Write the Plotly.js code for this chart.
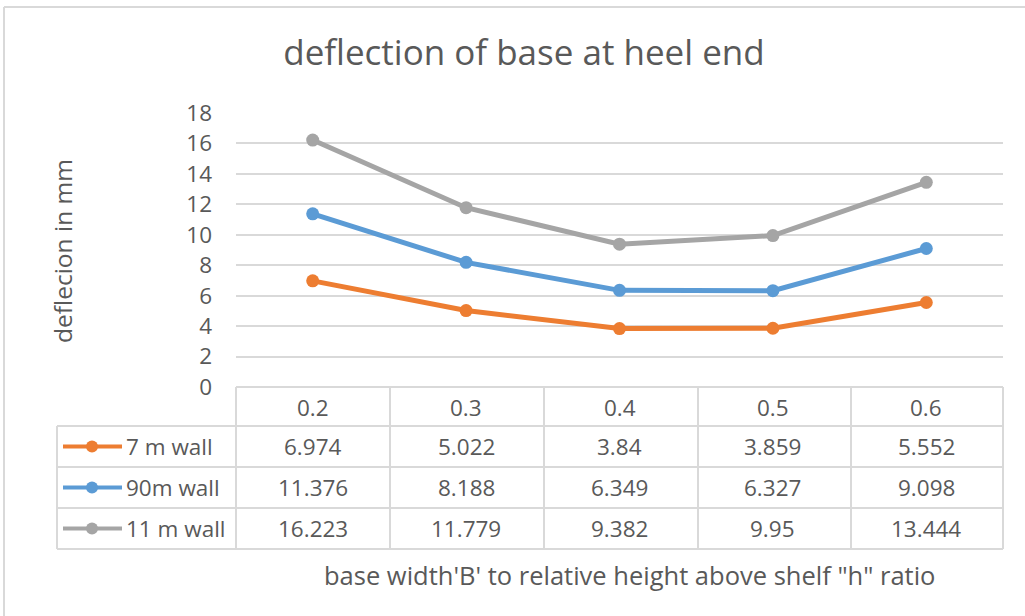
<!DOCTYPE html>
<html><head><meta charset="utf-8">
<script src="https://cdn.plot.ly/plotly-3.0.1.min.js"></script>
<style>html,body{margin:0;padding:0;background:#fff}#chart{width:1025px;height:616px}</style>
</head><body><div id="chart"></div>
<script>
var categories = ['0.2', '0.3', '0.4', '0.5', '0.6'];
var seriesNames = ['7 m wall', '90m wall', '11 m wall'];
var wall7 = [6.974, 5.022, 3.84, 3.859, 5.552];
var wall90 = [11.376, 8.188, 6.349, 6.327, 9.098];
var wall11 = [16.223, 11.779, 9.382, 9.95, 13.444];
var tableText7 = ['6.974', '5.022', '3.84', '3.859', '5.552'];
var tableText90 = ['11.376', '8.188', '6.349', '6.327', '9.098'];
var tableText11 = ['16.223', '11.779', '9.382', '9.95', '13.444'];
var yTicks = [0, 2, 4, 6, 8, 10, 12, 14, 16, 18];

var colors = ['#ED7D31', '#5B9BD5', '#A5A5A5'];
var values = [wall7, wall90, wall11];
var texts = [tableText7, tableText90, tableText11];
var FONT = 'Open Sans, Noto Sans, sans-serif';
var TXT = '#595959';
var GRID = '#d9d9d9';
var CELL = 22.5;

var L = 236, R = 1003, T = 113, B = 387, W = 1025, H = 616;
var pw = R - L, ph = B - T;
function px(x) { return (x - L) / pw; }
function py(y) { return (B - y) / ph; }

var xi = categories.map(function (c, i) { return i; });
var traces = values.map(function (v, k) {
  return {
    type: 'scatter', mode: 'lines+markers', x: xi, y: v, name: seriesNames[k],
    line: { color: colors[k], width: 5 },
    marker: { color: colors[k], size: 13 },
    cliponaxis: false, showlegend: false
  };
});

var rowTops = [387, 426, 467, 508, 549];
var colLines = [236, 390, 544, 698, 851, 1003];
var shapes = [], annotations = [];
var lineStyle = { color: GRID, width: 2 };
rowTops.forEach(function (y, i) {
  shapes.push({ type: 'line', xref: 'paper', yref: 'paper', x0: px(i === 0 ? L : 57), x1: px(R), y0: py(y), y1: py(y), line: lineStyle, layer: 'below' });
});
colLines.forEach(function (x) {
  shapes.push({ type: 'line', xref: 'paper', yref: 'paper', x0: px(x), x1: px(x), y0: py(387), y1: py(549), line: lineStyle, layer: 'below' });
});
shapes.push({ type: 'line', xref: 'paper', yref: 'paper', x0: px(57), x1: px(57), y0: py(426), y1: py(549), line: lineStyle, layer: 'below' });
shapes.push({ type: 'line', xref: 'paper', yref: 'paper', x0: px(4), x1: px(4), y0: py(7), y1: py(640), line: { color: '#d9d9d9', width: 2 } });
shapes.push({ type: 'line', xref: 'paper', yref: 'paper', x0: px(4), x1: px(1040), y0: py(7), y1: py(7), line: { color: '#d9d9d9', width: 2 } });

categories.forEach(function (c, i) {
  annotations.push({ xref: 'x', yref: 'paper', x: i, y: py(407), text: c, showarrow: false, font: { family: FONT, size: CELL, color: TXT }, xanchor: 'center', yanchor: 'middle' });
});
for (var k = 0; k < 3; k++) {
  var yc = (rowTops[k + 1] + rowTops[k + 2]) / 2;
  texts[k].forEach(function (t, i) {
    annotations.push({ xref: 'x', yref: 'paper', x: i, y: py(yc), text: t, showarrow: false, font: { family: FONT, size: CELL, color: TXT }, xanchor: 'center', yanchor: 'middle' });
  });
  annotations.push({ xref: 'paper', yref: 'paper', x: px(124), y: py(yc), text: seriesNames[k], showarrow: false, font: { family: FONT, size: 22.5, color: TXT }, xanchor: 'left', yanchor: 'middle' });
  shapes.push({ type: 'line', xref: 'paper', yref: 'paper', x0: px(63), x1: px(122), y0: py(yc), y1: py(yc), line: { color: colors[k], width: 4 } });
  shapes.push({ type: 'circle', xref: 'paper', yref: 'paper', xsizemode: 'pixel', ysizemode: 'pixel', xanchor: px(92), yanchor: py(yc), x0: -6, x1: 6, y0: -6, y1: 6, fillcolor: colors[k], line: { color: colors[k], width: 0 } });
}
annotations.push({ xref: 'paper', yref: 'paper', x: px(629), y: py(575), text: 'base width\'B\' to relative height above shelf "h" ratio', showarrow: false, font: { family: FONT, size: 25.5, color: TXT }, xanchor: 'center', yanchor: 'middle' });
annotations.push({ xref: 'paper', yref: 'paper', x: px(63), y: py(251), text: 'deflecion in mm', textangle: -90, showarrow: false, font: { family: FONT, size: 24.5, color: TXT }, xanchor: 'center', yanchor: 'middle' });

var layout = {
  width: W, height: H,
  margin: { l: L, r: W - R, t: T, b: H - B, pad: 0 },
  paper_bgcolor: '#fff', plot_bgcolor: '#fff',
  title: { text: 'deflection of base at heel end', x: 524 / W, xref: 'container', y: 1 - 53 / H, yref: 'container', yanchor: 'middle', xanchor: 'center', font: { family: FONT, size: 35, color: TXT } },
  xaxis: { type: 'linear', range: [-0.5, 4.5], showticklabels: false, showgrid: false, zeroline: false, showline: false, fixedrange: true },
  yaxis: {
    range: [0, 18], tickvals: yTicks, ticktext: yTicks.map(String), showgrid: true, gridcolor: GRID, gridwidth: 2,
    zeroline: false, showline: false, ticks: '', ticklabelstandoff: 23,
    tickfont: { family: FONT, size: 22.5, color: TXT }
  },
  shapes: shapes, annotations: annotations, showlegend: false
};
Plotly.newPlot('chart', traces, layout, { staticPlot: true });
</script></body></html>
